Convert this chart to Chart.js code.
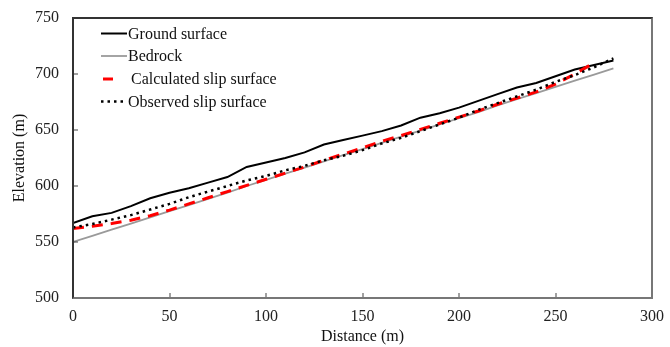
<!DOCTYPE html>
<html>
<head>
<meta charset="utf-8">
<script src="https://cdn.jsdelivr.net/npm/chart.js@4"></script>
<style>
  html, body { margin: 0; padding: 0; background: #fff; }
  #wrap { width: 670px; height: 347px; position: relative; }
  #frame {
    position: absolute;
    box-sizing: border-box;
    border-left: 2px solid #333;
    border-top: 2px solid #333;
    border-right: 2px solid #777;
    border-bottom: 2px solid #777;
    pointer-events: none;
  }
</style>
</head>
<body>
<div id="wrap"><canvas id="chart" width="670" height="347"></canvas><div id="frame"></div></div>
<script>
// --- DATA ---
const distances = [0, 10, 20, 30, 40, 50, 60, 70, 80, 90, 100, 110, 120, 130, 140,
    150, 160, 170, 180, 190, 200, 210, 220, 230, 240, 250, 260, 270, 280];

const groundSurface = [567, 573, 576, 582, 589, 594, 598, 603, 608, 617, 621, 625, 630, 637, 641,
    645, 649, 654, 661, 665, 670, 676, 682, 688, 692, 698, 704, 708, 712];

const bedrock = [550, 555.5, 561, 566.5, 572, 577.5, 583, 588.5, 594, 600, 605.5, 611, 616.5, 622, 627.5,
    633, 638.5, 644, 649.5, 655, 660.5, 666, 672, 677.5, 683, 688.5, 694, 699.5, 705];

const calculatedSlip = [562, 564, 566.5, 569.5, 573.5, 578.5, 584, 589.5, 595, 600.5, 606, 611.5, 617, 623, 628.5,
    634, 640, 645, 650.5, 656, 661.5, 667, 673, 678.5, 684, 691, 700, 710, null];

const observedSlip = [563, 566, 570, 574, 579, 584, 590, 595, 600, 605, 609, 614, 618, 623, 627,
    632, 638, 643, 649, 655, 661, 668, 674, 680, 686, 693, 699, 706, 714];

const seriesNames = ['Ground surface', 'Bedrock', 'Calculated slip surface', 'Observed slip surface'];
const xTicks = [0, 50, 100, 150, 200, 250, 300];
const yTicks = [500, 550, 600, 650, 700, 750];

const FONT = 'Liberation Serif, "Times New Roman", serif';

function toPoints(values) {
    const pts = [];
    values.forEach((v, i) => {
        if (v !== null) pts.push({ x: distances[i], y: v });
    });
    return pts;
}

// inward ticks and the legend inside the plot (top-left)
const ticksAndLegend = {
    id: 'ticksAndLegend',
    afterDraw(chart) {
        const c = chart.ctx;
        const a = chart.chartArea;
        const L = Math.round(a.left), R = Math.round(a.right);
        const T = Math.round(a.top), B = Math.round(a.bottom);

        // put the html frame over the plot area
        const frame = document.getElementById('frame');
        frame.style.left = (L - 1) + 'px';
        frame.style.top = (T - 1) + 'px';
        frame.style.width = (R - L + 2) + 'px';
        frame.style.height = (B - T + 2) + 'px';

        c.save();
        c.setLineDash([]);

        // tick marks pointing in
        c.fillStyle = '#444444';
        xTicks.slice(1, -1).forEach(v => {
            const px = Math.round(chart.scales.x.getPixelForValue(v));
            c.fillRect(px - 0.5, B - 5, 1, 5);
        });
        yTicks.slice(1, -1).forEach(v => {
            const py = Math.round(chart.scales.y.getPixelForValue(v));
            c.fillRect(L, py - 0.5, 5, 1);
        });

        // legend
        const rows = [33.5, 56, 79, 101.5];
        chart.data.datasets.forEach((ds, i) => {
            const y = rows[i];
            c.beginPath();
            c.strokeStyle = ds.borderColor;
            c.lineWidth = ds.borderWidth;
            if (i === 2) {
                c.setLineDash([10, 30]);
                c.moveTo(103, y);
            } else {
                c.setLineDash(ds.borderDash || []);
                c.moveTo(101, y);
            }
            c.lineTo(127, y);
            c.stroke();
            c.setLineDash([]);
            c.fillStyle = '#111';
            c.font = '16px ' + FONT;
            c.textBaseline = 'middle';
            c.textAlign = 'left';
            c.fillText(ds.label, i === 2 ? 131 : 128, y + 1);
        });
        c.restore();
    }
};

new Chart(document.getElementById('chart'), {
    type: 'line',
    data: {
        datasets: [
            {
                label: seriesNames[0],
                data: toPoints(groundSurface),
                borderColor: '#000000',
                borderWidth: 2,
                order: 4
            },
            {
                label: seriesNames[1],
                data: toPoints(bedrock),
                borderColor: '#9a9a9a',
                borderWidth: 1.8,
                order: 3
            },
            {
                label: seriesNames[2],
                data: toPoints(calculatedSlip),
                borderColor: '#ff0000',
                borderWidth: 3,
                borderDash: [11, 8],
                borderCapStyle: 'butt',
                order: 2
            },
            {
                label: seriesNames[3],
                data: toPoints(observedSlip),
                borderColor: '#000000',
                borderWidth: 2.5,
                borderDash: [2.5, 4],
                borderCapStyle: 'butt',
                order: 1
            }
        ]
    },
    options: {
        responsive: false,
        animation: false,
        events: [],
        layout: { padding: { top: 18, right: 18, left: 0, bottom: 0 } },
        elements: {
            point: { radius: 0 },
            line: { tension: 0, fill: false }
        },
        plugins: {
            legend: { display: false },
            tooltip: { enabled: false }
        },
        scales: {
            x: {
                type: 'linear',
                min: 0,
                max: 300,
                afterFit: scale => {
                    scale.height = 49;
                    scale.paddingLeft = 0;
                    scale.paddingRight = 0;
                },
                afterBuildTicks: scale => { scale.ticks = xTicks.map(v => ({ value: v })); },
                grid: { display: false, drawTicks: false },
                border: { display: false },
                ticks: {
                    padding: 9,
                    color: '#222',
                    font: { family: FONT, size: 16 },
                    maxRotation: 0
                },
                title: {
                    display: true,
                    text: 'Distance (m)',
                    color: '#111',
                    font: { family: FONT, size: 16 },
                    padding: { top: 0, bottom: 1 }
                }
            },
            y: {
                type: 'linear',
                min: 500,
                max: 750,
                afterFit: scale => {
                    scale.width = 73;
                    scale.paddingTop = 0;
                    scale.paddingBottom = 0;
                },
                afterBuildTicks: scale => { scale.ticks = yTicks.map(v => ({ value: v })); },
                grid: { display: false, drawTicks: false },
                border: { display: false },
                ticks: {
                    padding: 14,
                    color: '#222',
                    font: { family: FONT, size: 16 }
                },
                title: {
                    display: true,
                    text: 'Elevation (m)',
                    color: '#111',
                    font: { family: FONT, size: 16 },
                    padding: { top: 10, bottom: 0 }
                }
            }
        }
    },
    plugins: [ticksAndLegend]
});
</script>
</body>
</html>
